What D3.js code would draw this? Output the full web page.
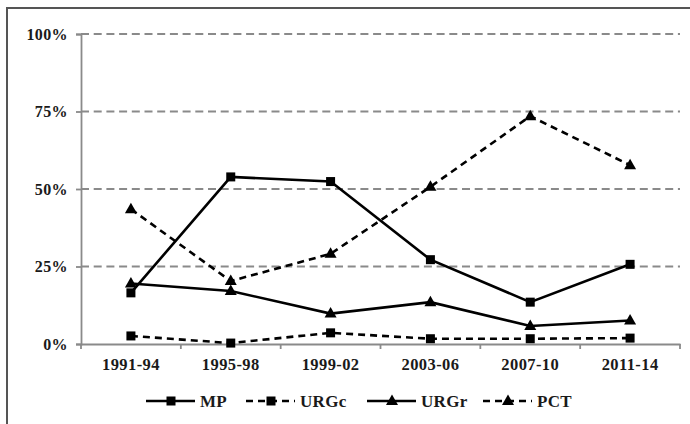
<!DOCTYPE html>
<html><head><meta charset="utf-8">
<script src="https://cdn.jsdelivr.net/npm/d3@7"></script>
<style>
html,body{margin:0;padding:0;background:#fff;}
svg{display:block;}
text{font-family:"Liberation Serif","DejaVu Serif",serif;font-weight:bold;fill:#1a1a1a;}
</style></head>
<body>
<svg id="chart" width="690" height="424"></svg>
<script>
const categories = ["1991-94","1995-98","1999-02","2003-06","2007-10","2011-14"];
const yTicks = [0, 25, 50, 75, 100];
const MP   = [16.5, 53.9, 52.4, 27.2, 13.5, 25.7];
const URGc = [2.6, 0.3, 3.6, 1.7, 1.7, 1.9];
const URGr = [19.5, 17.1, 9.8, 13.5, 5.8, 7.6];
const PCT  = [43.5, 20.3, 29.1, 50.7, 73.5, 57.7];
const seriesNames = ["MP","URGc","URGr","PCT"];

const series = [
  {name:"MP", values:MP, dashed:false, marker:"square"},
  {name:"URGc", values:URGc, dashed:true, marker:"square"},
  {name:"URGr", values:URGr, dashed:false, marker:"triangle"},
  {name:"PCT", values:PCT, dashed:true, marker:"triangle"}
];

const svg = d3.select("#chart");
// outer frame
svg.append("rect").attr("x",7).attr("y",8).attr("width",700).attr("height",430)
  .attr("fill","none").attr("stroke","#555").attr("stroke-width",2);

const pLeft=81, pRight=680, pTop=34, pBottom=344;
const x = d3.scaleBand().domain(categories).range([pLeft,pRight]);
const y = d3.scaleLinear().domain([0,100]).range([pBottom,pTop]);

// gridlines
svg.append("g").selectAll("line").data(yTicks.filter(d=>d>0)).join("line")
  .attr("x1",pLeft).attr("x2",pRight).attr("y1",d=>y(d)).attr("y2",d=>y(d))
  .attr("stroke","#8a8a8a").attr("stroke-width",2).attr("stroke-dasharray","8,4.7");

// y axis
const ya = svg.append("g").attr("transform",`translate(${pLeft},0)`)
  .call(d3.axisLeft(y).tickValues(yTicks).tickFormat(d=>d+"%").tickSize(5).tickPadding(8));
ya.select(".domain").attr("stroke","#8a8a8a").attr("stroke-width",1.8);
ya.selectAll(".tick line").attr("stroke","#8a8a8a").attr("stroke-width",1.8);
ya.selectAll("text").style("font-size","16px").style("letter-spacing","0.4px").attr("fill","#1a1a1a");

// x axis
const xa = svg.append("g").attr("transform",`translate(0,${pBottom})`)
  .call(d3.axisBottom(x).tickSize(0).tickPadding(14));
xa.select(".domain").attr("stroke","#8a8a8a").attr("stroke-width",1.8);
xa.selectAll("text").style("font-size","16.5px").style("letter-spacing","0.4px").attr("fill","#1a1a1a");
// category boundary ticks
const bounds = categories.map(c=>x(c)).concat([pRight]);
svg.append("g").selectAll("line").data(bounds).join("line")
  .attr("x1",d=>d).attr("x2",d=>d).attr("y1",pBottom).attr("y2",pBottom+5)
  .attr("stroke","#8a8a8a").attr("stroke-width",1.8);

const cx = c => x(c) + x.bandwidth()/2;
const line = d3.line().x((d,i)=>cx(categories[i])).y(d=>y(d));

function drawMarker(g, type, px, py){
  if(type==="square"){
    g.append("rect").attr("x",px-4.5).attr("y",py-4.5).attr("width",9).attr("height",9).attr("fill","#000");
  } else {
    g.append("path").attr("d",`M${px},${py-6.5}L${px+6},${py+4}L${px-6},${py+4}Z`).attr("fill","#000");
  }
}

series.forEach(s=>{
  const g = svg.append("g");
  g.append("path").attr("d",line(s.values)).attr("fill","none").attr("stroke","#000")
    .attr("stroke-width",2.6).attr("stroke-dasharray",s.dashed?"7,5":null);
  s.values.forEach((v,i)=>drawMarker(g,s.marker,cx(categories[i]),y(v)));
});

// legend
const legendX = [146, 246, 367, 483];
const ly = 401;
series.forEach((s,i)=>{
  const g = svg.append("g");
  const x0 = legendX[i];
  g.append("line").attr("x1",x0).attr("x2",x0+49).attr("y1",ly).attr("y2",ly)
    .attr("stroke","#000").attr("stroke-width",2.6).attr("stroke-dasharray",s.dashed?"7,5":null);
  drawMarker(g,s.marker,x0+25,ly);
  g.append("text").attr("x",x0+54).attr("y",ly+6).style("font-size","17px").style("letter-spacing","0.3px").text(seriesNames[i]);
});
</script>
</body></html>
